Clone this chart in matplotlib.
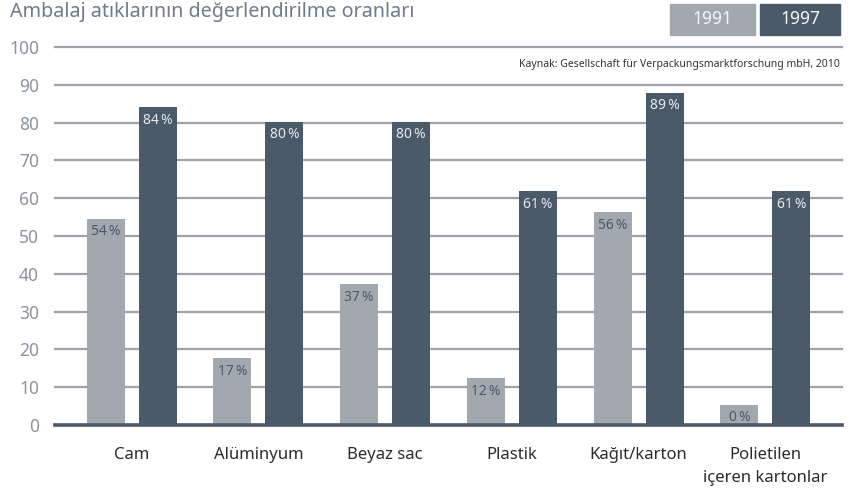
import matplotlib.pyplot as plt

plt.rcParams['font.family'] = ['Noto Sans', 'DejaVu Sans']

# Data
categories = ['Cam', 'Alüminyum', 'Beyaz sac', 'Plastik', 'Kağıt/karton',
              'Polietilen\niçeren kartonlar']
# bar heights as drawn in the picture
heights_1991 = [54.5, 17.7, 37.3, 12.4, 56.3, 5.3]
heights_1997 = [84.0, 80.2, 80.2, 61.9, 87.9, 61.9]
# printed percentages
labels_1991 = [54, 17, 37, 12, 56, 0]
labels_1997 = [84, 80, 80, 61, 89, 61]
yticks = [0, 10, 20, 30, 40, 50, 60, 70, 80, 90, 100]

c91 = '#a1a8af'
c97 = '#4b5a69'
grid_c = '#9ea2ab'

fig = plt.figure(figsize=(8.58, 4.88), dpi=100)
ax = fig.add_axes([55 / 858, 63 / 488, (842 - 55) / 858, (425 - 47) / 488])

x = list(range(len(categories)))
w = 0.30
off = 0.205
b1 = ax.bar([i - off for i in x], heights_1991, width=w, color=c91, zorder=3)
b2 = ax.bar([i + off for i in x], heights_1997, width=w, color=c97, zorder=3)

for rect, v in zip(b1, labels_1991):
    ax.annotate(f'{v}\u2009%', (rect.get_x() + rect.get_width() / 2, rect.get_height()),
                xytext=(0, -13), textcoords='offset pixels', ha='center', va='center',
                fontsize=10, color='#4b5a69', zorder=4)
for rect, v in zip(b2, labels_1997):
    ax.annotate(f'{v}\u2009%', (rect.get_x() + rect.get_width() / 2, rect.get_height()),
                xytext=(0, -13), textcoords='offset pixels', ha='center', va='center',
                fontsize=10, color='#e6e9ec', zorder=4)

ax.set_xlim(-0.606, 5.606)
ax.set_ylim(0, 100)
ax.set_yticks(yticks)
ax.set_yticklabels([str(t) for t in yticks], fontsize=12.5, color='#8c939a')
ax.set_xticks(x)
ax.set_xticklabels(categories, fontsize=12, color='#2b2b2b', linespacing=1.55,
                   va='top')
ax.tick_params(axis='both', length=0)
ax.tick_params(axis='y', pad=11.5)
ax.tick_params(axis='x', pad=16)

ax.grid(axis='y', color=grid_c, linewidth=1.6, zorder=1)
for gl in ax.get_ygridlines():
    gl.set_clip_on(False)
ax.axhline(0, color=c97, linewidth=2.6, zorder=5, clip_on=False)

for s in ax.spines.values():
    s.set_visible(False)

# Title
fig.text(10 / 858, 1 - 2 / 488, 'Ambalaj atıklarının değerlendirilme oranları',
         fontsize=14.2, color='#6f7c89', va='top', ha='left')

# Legend boxes
fig.patches.append(plt.Rectangle((670 / 858, 1 - 35 / 488), 85 / 858, 31 / 488,
                                 transform=fig.transFigure, color=c91))
fig.patches.append(plt.Rectangle((760 / 858, 1 - 35 / 488), 80 / 858, 31 / 488,
                                 transform=fig.transFigure, color=c97))
fig.text(712 / 858, 1 - 19.5 / 488, '1991', fontsize=12.5, color='#f4f5f6',
         ha='center', va='center')
fig.text(800 / 858, 1 - 19.5 / 488, '1997', fontsize=12.5, color='#f4f5f6',
         ha='center', va='center')

# Source
fig.text(840 / 858, 1 - 64 / 488,
         'Kaynak: Gesellschaft für Verpackungsmarktforschung mbH, 2010',
         fontsize=7.5, color='#333333', ha='right', va='center')

fig.savefig('out.png', dpi=100)
